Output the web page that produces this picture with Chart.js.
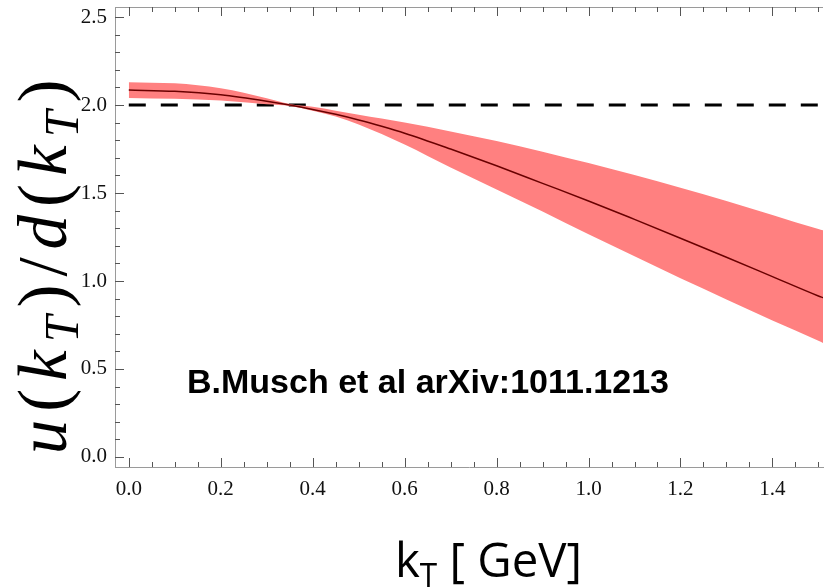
<!DOCTYPE html>
<html>
<head>
<meta charset="utf-8">
<script src="https://cdn.jsdelivr.net/npm/chart.js@4"></script>
<style>
  html, body { margin: 0; padding: 0; background: #fff; }
  canvas { display: block; }
</style>
</head>
<body>
<canvas id="ratioChart" width="830" height="588"></canvas>
<script>
// values
const kT = [0, 0.1, 0.2, 0.3, 0.35, 0.4, 0.45, 0.5, 0.55, 0.6, 0.7, 0.8, 0.9, 1.0, 1.1, 1.2, 1.3, 1.4, 1.5, 1.51];
const central = [2.085, 2.078, 2.058, 2.022, 2.0, 1.975, 1.947, 1.915, 1.879, 1.84, 1.75, 1.655, 1.555, 1.455, 1.35, 1.243, 1.135, 1.025, 0.915, 0.905];
const upper = [2.13, 2.123, 2.095, 2.038, 2.006, 1.99, 1.968, 1.945, 1.923, 1.9, 1.85, 1.795, 1.735, 1.67, 1.602, 1.53, 1.455, 1.375, 1.295, 1.288];
const lower = [2.04, 2.035, 2.025, 2.005, 1.995, 1.968, 1.935, 1.89, 1.835, 1.775, 1.645, 1.52, 1.395, 1.265, 1.14, 1.015, 0.895, 0.775, 0.66, 0.648];
const refLevel = 2.0;
const refRange = [0, 1.51];

const xTicks = [0, 0.2, 0.4, 0.6, 0.8, 1.0, 1.2, 1.4];
const yTicks = [0, 0.5, 1.0, 1.5, 2.0, 2.5];
const xMinorStep = 0.05;
const yMinorStep = 0.1;

const noteText = "B.Musch et al arXiv:1011.1213";

const toPoints = (ys) => kT.map((x, i) => ({ x: x, y: ys[i] }));

const frameColor = "#9a9a9a";

// inward ticks + top frame line
const framePlugin = {
  id: "frame",
  afterDatasetsDraw(chart) {
    const { ctx, chartArea, scales } = chart;
    const xs = scales.x, ys = scales.y;
    ctx.save();
    ctx.strokeStyle = frameColor;
    ctx.lineWidth = 1;
    ctx.beginPath();
    ctx.moveTo(chartArea.left, chartArea.top + 0.5);
    ctx.lineTo(chartArea.right, chartArea.top + 0.5);
    ctx.stroke();

    ctx.strokeStyle = "#555";
    const tick = (x1, y1, x2, y2) => { ctx.beginPath(); ctx.moveTo(x1, y1); ctx.lineTo(x2, y2); ctx.stroke(); };

    for (let v = 0; v <= xs.max + 1e-9; v += xMinorStep) {
      const px = Math.round(xs.getPixelForValue(v)) + 0.5;
      const major = xTicks.some(t => Math.abs(t - v) < 1e-6);
      const len = major ? 9 : 5;
      tick(px, chartArea.bottom, px, chartArea.bottom - len);
      tick(px, chartArea.top, px, chartArea.top + len);
    }
    for (let v = 0; v <= ys.max + 1e-9; v += yMinorStep) {
      const py = Math.round(ys.getPixelForValue(v)) + 0.5;
      const major = yTicks.some(t => Math.abs(t - v) < 1e-6);
      const len = major ? 9 : 5;
      tick(chartArea.left, py, chartArea.left + len, py);
    }
    ctx.restore();
  }
};

// titles and the note
const textPlugin = {
  id: "texts",
  afterDraw(chart) {
    const ctx = chart.ctx;
    ctx.save();
    ctx.fillStyle = "#000";

    ctx.font = 'bold 34px "Liberation Sans", Arial, sans-serif';
    ctx.textAlign = "center";
    ctx.textBaseline = "alphabetic";
    ctx.fillText(noteText, 428, 393);

    // x title: k_T [ GeV]
    const big = 48, sub = 32;
    ctx.textAlign = "left";
    const f1 = big + 'px "Open Sans", sans-serif';
    const f2 = sub + 'px "Open Sans", sans-serif';
    ctx.font = f1;
    const wk = ctx.measureText("k").width;
    const wr = ctx.measureText(" [ GeV]").width;
    ctx.font = f2;
    const wt = ctx.measureText("T").width;
    const total = wk + wt + wr;
    const sx = 187 / total;
    ctx.translate(395, 577);
    ctx.scale(sx, 1);
    ctx.font = f1;
    ctx.fillText("k", 0, 0);
    ctx.font = f2;
    ctx.fillText("T", wk, 10);
    ctx.font = f1;
    ctx.fillText(" [ GeV]", wk + wt, 0);
    ctx.setTransform(1, 0, 0, 1, 0, 0);

    // y title: u(k_T)/d(k_T)
    const size = 69;
    const parts = [
      ["u", true, false], ["(", false, false], ["k", true, false], ["T", true, true], [")", false, false],
      ["/", false, false], ["d", true, false], ["(", false, false], ["k", true, false], ["T", true, true], [")", false, false]
    ];
    const fontFor = (it, sb) => (it ? "italic " : "") + Math.round(sb ? size * 0.7 : size) + 'px "Liberation Serif", serif';
    const gap = 8;
    let len = 0;
    parts.forEach(p => { ctx.font = fontFor(p[1], p[2]); len += ctx.measureText(p[0]).width + gap; });
    len -= gap;
    ctx.translate(66, 267);
    ctx.rotate(-Math.PI / 2);
    let x = -len / 2;
    parts.forEach(p => {
      ctx.font = fontFor(p[1], p[2]);
      ctx.fillText(p[0], x, p[2] ? size * 0.17 : 0);
      x += ctx.measureText(p[0]).width + gap;
    });
    ctx.restore();
  }
};

const ctx = document.getElementById("ratioChart").getContext("2d");
new Chart(ctx, {
  type: "line",
  data: {
    datasets: [
      {
        label: "central",
        data: toPoints(central),
        borderColor: "#6a0000",
        borderWidth: 1.5,
        pointRadius: 0,
        cubicInterpolationMode: "monotone",
        fill: false
      },
      {
        label: "upper",
        data: toPoints(upper),
        borderWidth: 0,
        borderColor: "rgba(0,0,0,0)",
        backgroundColor: "#ff8080",
        pointRadius: 0,
        cubicInterpolationMode: "monotone",
        fill: "+1"
      },
      {
        label: "lower",
        data: toPoints(lower),
        borderWidth: 0,
        borderColor: "rgba(0,0,0,0)",
        pointRadius: 0,
        cubicInterpolationMode: "monotone",
        fill: false
      },
      {
        label: "reference",
        data: refRange.map(x => ({ x: x, y: refLevel })),
        borderColor: "#000",
        borderWidth: 3,
        borderDash: [17, 15],
        pointRadius: 0,
        fill: false
      }
    ]
  },
  options: {
    responsive: false,
    animation: false,
    layout: { padding: { top: 7, right: 7, left: 0, bottom: 0 } },
    plugins: {
      legend: { display: false },
      tooltip: { enabled: false },
      title: { display: false }
    },
    scales: {
      x: {
        type: "linear",
        min: -0.03,
        max: 1.51,
        grid: { display: false, drawTicks: false },
        border: { display: true, color: frameColor, width: 1 },
        afterBuildTicks: (scale) => { scale.ticks = xTicks.map(v => ({ value: v })); },
        afterFit: (scale) => {
          scale.height = 121;
          scale.paddingLeft = 0;
          scale.paddingRight = 0;
        },
        ticks: {
          padding: 10,
          maxRotation: 0,
          color: "#111",
          font: { family: '"Liberation Serif", serif', size: 21 },
          callback: (v) => Number(v).toFixed(1)
        }
      },
      y: {
        type: "linear",
        min: -0.057,
        max: 2.557,
        grid: { display: false, drawTicks: false },
        border: { display: true, color: frameColor, width: 1 },
        afterBuildTicks: (scale) => { scale.ticks = yTicks.map(v => ({ value: v })); },
        afterFit: (scale) => {
          scale.width = 115;
          scale.paddingTop = 0;
          scale.paddingBottom = 0;
        },
        ticks: {
          padding: 8,
          color: "#111",
          font: { family: '"Liberation Serif", serif', size: 21 },
          callback: (v) => Number(v).toFixed(1)
        }
      }
    }
  },
  plugins: [framePlugin, textPlugin]
});
</script>
</body>
</html>
